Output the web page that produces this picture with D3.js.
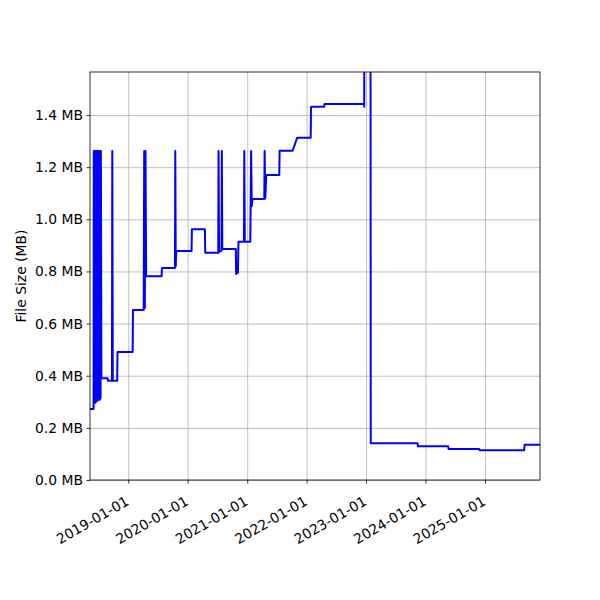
<!DOCTYPE html>
<html>
<head>
<meta charset="utf-8">
<script src="https://cdn.jsdelivr.net/npm/d3@7"></script>
<style>
  body { margin: 0; background: #fff; }
  text { font-family: "DejaVu Sans", sans-serif; }
  .grid line { stroke: #b0b0b0; stroke-width: 0.8; }
  .grid .domain { display: none; }
  .axis .domain { display: none; }
  .axis line { stroke: #000; stroke-width: 0.8; }
  .axis text { font-size: 13.9px; fill: #000; }
</style>
</head>
<body>
<div id="chart"></div>
<script>
const width = 600;
const height = 600;
const margin = { top: 72, right: 60, bottom: 120, left: 90 };

// commit dates and file sizes (MB)
const dates = [
  "2018-05-11", "2018-05-29", "2018-06-02", "2018-06-03", "2018-06-05", "2018-06-07",
  "2018-06-09", "2018-06-11", "2018-06-13", "2018-06-15", "2018-06-17", "2018-06-19",
  "2018-06-21", "2018-06-23", "2018-06-25", "2018-06-27", "2018-06-29", "2018-07-01",
  "2018-07-03", "2018-07-05", "2018-07-07", "2018-07-09", "2018-07-11", "2018-07-13",
  "2018-07-15", "2018-07-17", "2018-07-20", "2018-08-27", "2018-08-29", "2018-09-23",
  "2018-09-25", "2018-09-28", "2018-10-25", "2018-10-27", "2019-01-28", "2019-01-30",
  "2019-04-06", "2019-04-09", "2019-04-13", "2019-04-17", "2019-04-21", "2019-07-25",
  "2019-07-27", "2019-10-15", "2019-10-17", "2019-10-20", "2019-10-23", "2020-01-25",
  "2020-01-27", "2020-04-16", "2020-04-18", "2020-07-07", "2020-07-09", "2020-07-12",
  "2020-07-27", "2020-07-29", "2020-08-01", "2020-10-23", "2020-10-25", "2020-11-05",
  "2020-11-08", "2020-12-12", "2020-12-14", "2020-12-17", "2021-01-20", "2021-01-25",
  "2021-01-29", "2021-02-02", "2021-04-16", "2021-04-18", "2021-04-22", "2021-04-28",
  "2021-07-17", "2021-07-19", "2021-10-07", "2021-11-04", "2022-01-26", "2022-01-28",
  "2022-04-19", "2022-04-21", "2022-12-19", "2022-12-21", "2022-12-23", "2023-01-28",
  "2023-01-30", "2023-11-14", "2023-11-16", "2024-05-20", "2024-05-22", "2024-11-27",
  "2024-11-29", "2025-08-30", "2025-09-01", "2025-12-05"
];

const sizes = [
  0.272, 0.272, 0.272, 1.262, 0.300, 1.262,
  0.298, 1.262, 0.296, 1.262, 0.300, 1.262,
  0.305, 1.262, 0.308, 1.262, 0.305, 1.262,
  0.310, 1.262, 0.312, 1.262, 0.308, 1.262,
  0.315, 1.262, 0.390, 0.390, 0.381, 0.381,
  1.262, 0.381, 0.381, 0.491, 0.491, 0.652,
  0.652, 1.262, 0.660, 1.262, 0.782, 0.782,
  0.813, 0.813, 1.262, 0.820, 0.878, 0.878,
  0.962, 0.962, 0.872, 0.872, 1.262, 0.875,
  0.880, 1.262, 0.886, 0.886, 0.790, 0.795,
  0.914, 0.914, 1.262, 0.914, 0.914, 1.262,
  1.050, 1.078, 1.078, 1.262, 1.080, 1.170,
  1.170, 1.263, 1.263, 1.313, 1.313, 1.432,
  1.432, 1.442, 1.442, 1.432, 2.600, 2.600,
  0.1406, 0.1406, 0.129, 0.129, 0.119, 0.119,
  0.114, 0.114, 0.135, 0.135
];

const yTicks = [0, 0.2, 0.4, 0.6, 0.8, 1.0, 1.2, 1.4];
const xTickYears = ["2019-01-01", "2020-01-01", "2021-01-01", "2022-01-01", "2023-01-01", "2024-01-01", "2025-01-01"];
const yMax = 1.565;

const parse = d3.timeParse("%Y-%m-%d");
const data = dates.map((d, i) => ({ date: parse(d), size: sizes[i] }));

const innerW = width - margin.left - margin.right;
const innerH = height - margin.top - margin.bottom;

const x = d3.scaleTime()
    .domain(d3.extent(data, d => d.date))
    .range([0, innerW]);

const y = d3.scaleLinear()
    .domain([0, yMax])
    .range([innerH, 0]);

const svg = d3.select("#chart")
    .append("svg")
    .attr("width", width)
    .attr("height", height);

const g = svg.append("g")
    .attr("transform", `translate(${margin.left},${margin.top})`);

svg.append("defs").append("clipPath")
    .attr("id", "plot-clip")
    .append("rect")
    .attr("width", innerW)
    .attr("height", innerH);

// grid
g.append("g")
    .attr("class", "grid")
    .attr("transform", `translate(0,${innerH})`)
    .call(d3.axisBottom(x).tickValues(xTickYears.map(parse)).tickSize(-innerH).tickFormat(""));

g.append("g")
    .attr("class", "grid")
    .call(d3.axisLeft(y).tickValues(yTicks).tickSize(-innerW).tickFormat(""));

// series
const line = d3.line()
    .x(d => x(d.date))
    .y(d => y(d.size));

g.append("path")
    .datum(data)
    .attr("clip-path", "url(#plot-clip)")
    .attr("fill", "none")
    .attr("stroke", "#0000ff")
    .attr("stroke-width", 2)
    .attr("stroke-linejoin", "round")
    .attr("d", line);

// axes
const xAxis = g.append("g")
    .attr("class", "axis")
    .attr("transform", `translate(0,${innerH})`)
    .call(d3.axisBottom(x)
        .tickValues(xTickYears.map(parse))
        .tickSize(3.5)
        .tickPadding(3.5)
        .tickFormat(d3.timeFormat("%Y-%m-%d")));

xAxis.selectAll("text")
    .attr("y", 0)
    .attr("text-anchor", "end")
    .attr("transform", "translate(-4,15) rotate(-30)")
    .attr("dy", "0.75em");

g.append("g")
    .attr("class", "axis")
    .call(d3.axisLeft(y)
        .tickValues(yTicks)
        .tickSize(3.5)
        .tickPadding(3.5)
        .tickFormat(d => `${d.toFixed(1)} MB`));

// spines
g.append("rect")
    .attr("width", innerW)
    .attr("height", innerH)
    .attr("fill", "none")
    .attr("stroke", "#000")
    .attr("stroke-width", 0.8);

svg.append("text")
    .attr("transform", `translate(26,${margin.top + innerH / 2}) rotate(-90)`)
    .attr("text-anchor", "middle")
    .style("font-size", "13.9px")
    .text("File Size (MB)");
</script>
</body>
</html>
